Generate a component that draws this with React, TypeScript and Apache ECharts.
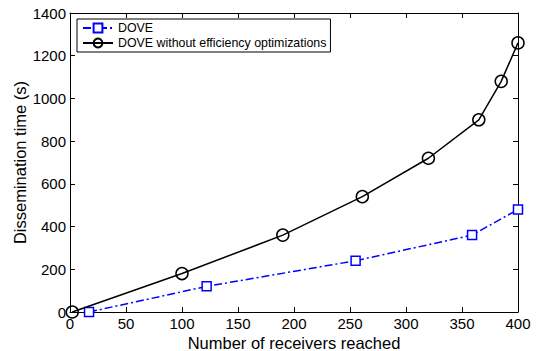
import React, { useEffect, useRef } from "react";
import * as echarts from "echarts";

const doveX = [17, 122, 255, 359, 400];
const doveY = [0, 120, 240, 360, 480];
const noOptX = [2, 100, 190, 261, 320, 365, 385, 400];
const noOptY = [0, 180, 360, 540, 720, 900, 1080, 1260];
const seriesNames = ["DOVE", "DOVE without efficiency optimizations"];
const xTitle = "Number of receivers reached";
const yTitle = "Dissemination time (s)";

const FONT = "Liberation Sans";

export default function App() {
  const ref = useRef<HTMLDivElement>(null);
  useEffect(() => {
    if (!ref.current) return;
    const chart = echarts.init(ref.current, undefined, { renderer: "svg" });
    const baseX = {
      type: "value" as const,
      min: 0,
      max: 400,
      interval: 50,
      splitLine: { show: false },
      axisLine: { show: true, onZero: false, lineStyle: { color: "#000", width: 1 } },
      axisTick: { show: true, inside: true, length: 5, lineStyle: { color: "#000" } },
    };
    const baseY = {
      type: "value" as const,
      min: 0,
      max: 1400,
      interval: 200,
      splitLine: { show: false },
      axisLine: { show: true, onZero: false, lineStyle: { color: "#000", width: 1 } },
      axisTick: { show: true, inside: true, length: 5, lineStyle: { color: "#000" } },
    };
    chart.setOption({
      animation: false,
      backgroundColor: "#fff",
      textStyle: { fontFamily: FONT },
      grid: { left: 70, right: 19, top: 13, bottom: 39, containLabel: false, outerBoundsMode: "none" },
      xAxis: [
        {
          ...baseX,
          position: "bottom",
          name: xTitle,
          nameLocation: "middle",
          nameGap: 22,
          nameMoveOverlap: false,
          nameTextStyle: { color: "#000", fontSize: 16.5, fontFamily: FONT },
          axisLabel: { color: "#000", fontSize: 15, fontFamily: FONT, margin: 4, formatter: (v: number) => String(v) },
        },
        { ...baseX, position: "top", axisLabel: { show: false } },
      ],
      yAxis: [
        {
          ...baseY,
          position: "left",
          name: yTitle,
          nameLocation: "middle",
          nameGap: 42,
          nameMoveOverlap: false,
          nameTextStyle: { color: "#000", fontSize: 16.5, fontFamily: FONT },
          axisLabel: { color: "#000", fontSize: 15, fontFamily: FONT, margin: 4, formatter: (v: number) => String(v) },
        },
        { ...baseY, position: "right", axisLabel: { show: false } },
      ],
      legend: {
        show: true,
        orient: "vertical",
        left: 77,
        top: 19,
        itemWidth: 30,
        itemHeight: 11,
        itemGap: 3,
        padding: [3, 4, 3, 5],
        backgroundColor: "#fff",
        borderColor: "#000",
        borderWidth: 1,
        borderRadius: 0,
        textStyle: { color: "#000", fontSize: 12.4, fontFamily: FONT },
        data: seriesNames,
      },
      series: [
        {
          name: seriesNames[0],
          type: "line",
          data: doveX.map((x, i) => [x, doveY[i]]),
          symbol: "rect",
          symbolSize: 9,
          showAllSymbol: true,
          lineStyle: { color: "#0000ff", width: 1.5, type: [8, 3, 2, 3] },
          itemStyle: { color: "#fff", borderColor: "#0000ff", borderWidth: 1.5 },
          z: 3,
        },
        {
          name: seriesNames[1],
          type: "line",
          data: noOptX.map((x, i) => [x, noOptY[i]]),
          symbol: "circle",
          symbolSize: 12,
          showAllSymbol: true,
          lineStyle: { color: "#000", width: 1.5, type: "solid" },
          itemStyle: { color: "rgba(255,255,255,0)", borderColor: "#000", borderWidth: 1.5 },
          z: 4,
        },
      ],
    });
    return () => chart.dispose();
  }, []);
  return <div ref={ref} style={{ width: 537, height: 351, position: "absolute", left: 0, top: 0 }} />;
}
